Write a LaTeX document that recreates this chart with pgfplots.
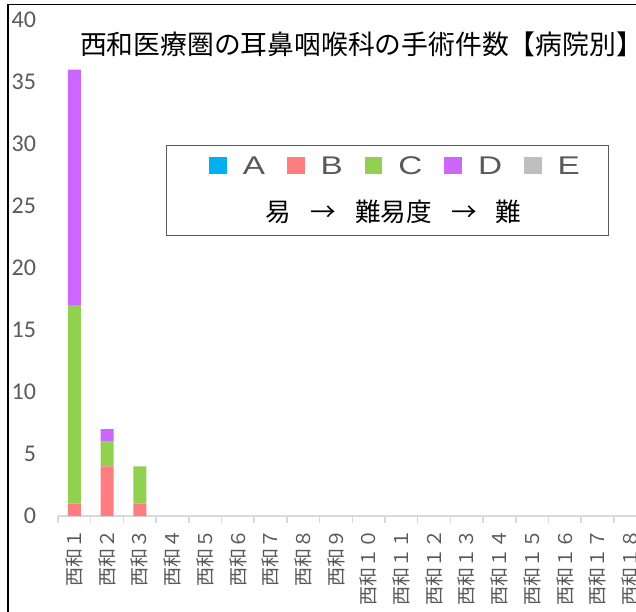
\documentclass[border=0pt]{standalone}
\usepackage{pgfplots}
\usepackage{pgfplotstable}
\pgfplotsset{compat=1.18}
\usepackage{fontspec}
\setmainfont{Carlito}
\newfontfamily\cjk{Noto Sans CJK JP}
\newfontfamily\widesans[FakeStretch=1.3]{Liberation Sans}
\definecolor{cA}{HTML}{00B0F0}
\definecolor{cB}{HTML}{FF7C80}
\definecolor{cC}{HTML}{92D050}
\definecolor{cD}{HTML}{CC66FF}
\definecolor{cE}{HTML}{BFBFBF}
\definecolor{txtgray}{HTML}{595959}
\definecolor{axgray}{HTML}{D9D9D9}

% 1 px of the reference = 0.5pt
\pgfplotstableread{
x  A B C  D  E
1  0 1 16 19 0
2  0 4 2  1  0
3  0 1 3  0  0
4  0 0 0  0  0
5  0 0 0  0  0
6  0 0 0  0  0
7  0 0 0  0  0
8  0 0 0  0  0
9  0 0 0  0  0
10 0 0 0  0  0
11 0 0 0  0  0
12 0 0 0  0  0
13 0 0 0  0  0
14 0 0 0  0  0
15 0 0 0  0  0
16 0 0 0  0  0
17 0 0 0  0  0
18 0 0 0  0  0
}\hospitals

\begin{document}
\begin{tikzpicture}
\useasboundingbox (0,0) rectangle (318pt,305.5pt);
\clip (0,0) rectangle (318pt,305.5pt);
\begin{axis}[
  at={(29pt,47.5pt)}, anchor=south west,
  scale only axis, width=294.3pt, height=248pt,
  xmin=0.5, xmax=18.5, ymin=0, ymax=40,
  ybar stacked, bar width=6.5pt,
  axis x line*=bottom, axis y line*=left,
  x axis line style={draw=axgray, line width=0.75pt, -},
  y axis line style={draw=none},
  tick align=outside,
  major tick length=0pt,
  minor tick length=3.5pt,
  ytick={0,5,...,40},
  ytick style={draw=none},
  xtick={1,...,18},
  minor xtick={0.5,1.5,...,18.5},
  minor x tick style={draw=axgray, line width=0.75pt},
  xticklabels={西和１,西和２,西和３,西和４,西和５,西和６,西和７,西和８,西和９,
    西和１０,西和１１,西和１２,西和１３,西和１４,西和１５,西和１６,西和１７,西和１８},
  xticklabel style={yshift=-3pt, rotate=90, anchor=east,
    font=\cjk\fontsize{9.5}{10}\selectfont, text=txtgray},
  /pgf/number format/assume math mode=true,
  yticklabel style={font=\fontsize{12}{14}\selectfont, text=txtgray, xshift=-7.5pt},
  legend columns=5,
  legend image code/.code={\fill[#1] (0pt,-3.6pt) rectangle (8.8pt,5.2pt);},
  legend style={at={(0.5717,0.7036)}, anchor=center, draw=none, fill=none,
    inner sep=0pt,
    nodes={inner sep=0pt, font=\widesans\fontsize{12.8}{14}\selectfont, text=txtgray},
    /tikz/every odd column/.append style={column sep=8pt},
    /tikz/every even column/.append style={column sep=11pt}},
]
\addplot[fill=cA, draw=none] table[x=x, y=A] {\hospitals};
\addlegendentry{A}
\addplot[fill=cB, draw=none] table[x=x, y=B] {\hospitals};
\addlegendentry{B}
\addplot[fill=cC, draw=none] table[x=x, y=C] {\hospitals};
\addlegendentry{C}
\addplot[fill=cD, draw=none] table[x=x, y=D] {\hospitals};
\addlegendentry{D}
\addplot[fill=cE, draw=none] table[x=x, y=E] {\hospitals};
\addlegendentry{E}
\end{axis}

% legend frame and difficulty line
\draw[txtgray, line width=0.5pt] (83pt,187.5pt) rectangle (304pt,232.5pt);
\node[font=\cjk\fontsize{12.8}{14}\selectfont] at (196.75pt,199.5pt)
  {易\hspace{9.6pt}→\hspace{9.6pt}難易度\hspace{9.6pt}→\hspace{9.6pt}難};

% title
\node[font=\cjk\fontsize{13.4}{15}\selectfont] at (180.75pt,283.5pt)
  {西和医療圏の耳鼻咽喉科の手術件数【病院別】};

% chart frame (cropped at the right and bottom)
\draw[black, line width=0.8pt] (4pt,-2pt) -- (4pt,303.25pt) -- (322pt,303.25pt);
\end{tikzpicture}
\end{document}
